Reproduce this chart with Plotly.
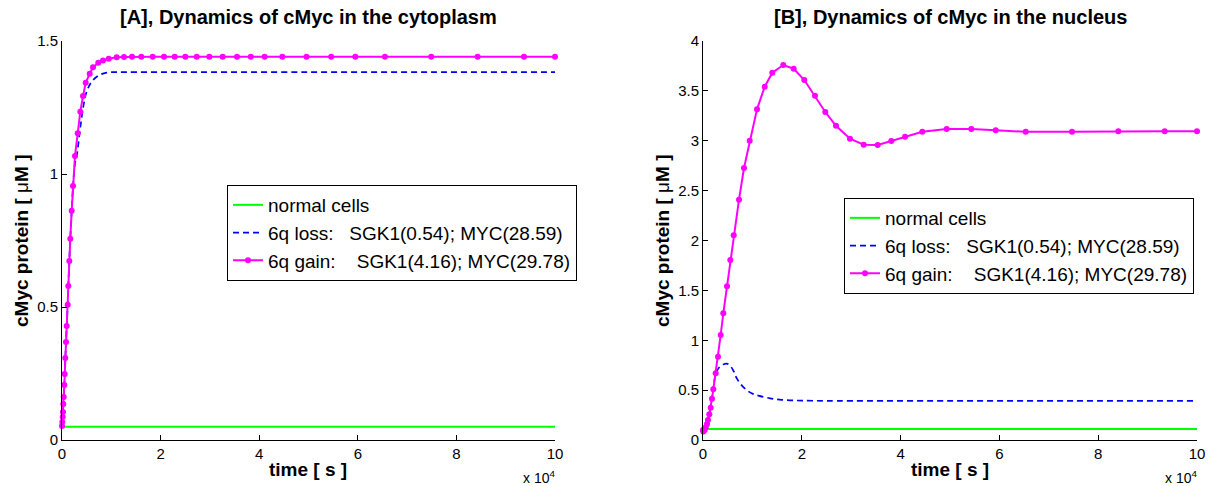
import plotly.graph_objects as go

# ---------------- data ----------------
# [A] cytoplasm
t_norm_A = [0, 100000]
v_norm_A = [0.05, 0.05]

t_loss_A = [0, 61, 142, 203, 264, 345, 467, 548, 669, 811, 953, 1156, 1278, 1481, 1684,
            1967, 2231, 2637, 2982, 3651, 4320, 5010, 6024, 7363, 9067, 11000, 15000,
            25000, 50000, 75000, 100000]
v_loss_A = [0.05, 0.068, 0.086, 0.105, 0.135, 0.162, 0.207, 0.248, 0.308, 0.368, 0.429, 0.508,
            0.579, 0.673, 0.757, 0.862, 0.950, 1.040, 1.067, 1.165, 1.253, 1.310, 1.347, 1.370,
            1.381, 1.383, 1.383, 1.383, 1.383, 1.383, 1.383]

t_gain_A = [0, 61, 142, 203, 264, 345, 467, 548, 669, 811, 953, 1156, 1278, 1481, 1684,
            1967, 2231, 2637, 3185, 3712, 4260, 4807, 5619, 6288, 7363, 8316, 9473, 11095,
            12576, 14199, 16085, 18398, 20690, 22860, 25010, 27323, 29878, 32596, 35500,
            38300, 41100, 44700, 49600, 54600, 59500, 65500, 74900, 84300, 93700, 100000]
v_gain_A = [0.053, 0.068, 0.086, 0.105, 0.135, 0.162, 0.207, 0.248, 0.308, 0.368, 0.429, 0.508,
            0.579, 0.673, 0.757, 0.862, 0.955, 1.068, 1.153, 1.234, 1.293, 1.343, 1.377, 1.401,
            1.418, 1.427, 1.433, 1.439, 1.440, 1.441, 1.441, 1.441, 1.441, 1.441, 1.441, 1.441,
            1.441, 1.441, 1.441, 1.441, 1.441, 1.441, 1.441, 1.441, 1.441, 1.441, 1.441, 1.441,
            1.441, 1.441]

# [B] nucleus
t_norm_B = [0, 100000]
v_norm_B = [0.11, 0.11]

t_loss_B = [0, 500, 1000, 1500, 2000, 2400, 2800, 3400, 4200, 4800, 5500, 6200, 6820, 7800,
            8850, 10000, 11200, 13560, 15500, 17600, 20000, 25000, 50000, 75000, 100000]
v_loss_B = [0.10, 0.13, 0.20, 0.32, 0.50, 0.62, 0.69, 0.735, 0.76, 0.765, 0.745, 0.69, 0.62,
            0.55, 0.50, 0.465, 0.445, 0.418, 0.405, 0.398, 0.395, 0.393, 0.393, 0.393, 0.393]

t_gain_B = [0, 61, 344, 547, 810, 1012, 1275, 1559, 1822, 2085, 2571, 3036, 3583, 4109, 4858,
            5526, 6215, 7287, 8300, 9453, 10931, 12490, 14028, 16255, 18360, 20506, 22672,
            24757, 26923, 29757, 32530, 35364, 38117, 40891, 44393, 49332, 54312, 59251,
            65324, 74696, 84069, 93462, 100000]
v_gain_B = [0.10, 0.085, 0.10, 0.127, 0.16, 0.20, 0.258, 0.324, 0.414, 0.508, 0.669, 0.835,
            1.053, 1.27, 1.541, 1.805, 2.052, 2.409, 2.727, 3.0, 3.315, 3.542, 3.682, 3.759,
            3.722, 3.609, 3.452, 3.288, 3.15, 3.02, 2.96, 2.957, 2.997, 3.04, 3.09, 3.118,
            3.118, 3.105, 3.09, 3.09, 3.095, 3.095, 3.095]

x_tickvals = [0, 20000, 40000, 60000, 80000, 100000]
x_ticktext = ["0", "2", "4", "6", "8", "10"]
yA_tickvals = [0, 0.5, 1, 1.5]
yA_ticktext = ["0", "0.5", "1", "1.5"]
yB_tickvals = [0, 0.5, 1, 1.5, 2, 2.5, 3, 3.5, 4]
yB_ticktext = ["0", "0.5", "1", "1.5", "2", "2.5", "3", "3.5", "4"]

names = ["normal cells",
         "6q loss:\u00a0\u00a0\u00a0SGK1(0.54); MYC(28.59)",
         "6q gain:\u00a0\u00a0\u00a0\u00a0SGK1(4.16); MYC(29.78)"]

GREEN = "#00ff00"
BLUE = "#0000ff"
MAG = "#ff00ff"
FONT = "Liberation Sans, Arial, sans-serif"

fig = go.Figure()

for (tn, vn, tl, vl, tg, vg, xa, ya, lg) in [
    (t_norm_A, v_norm_A, t_loss_A, v_loss_A, t_gain_A, v_gain_A, "x", "y", "legend"),
    (t_norm_B, v_norm_B, t_loss_B, v_loss_B, t_gain_B, v_gain_B, "x2", "y2", "legend2"),
]:
    fig.add_trace(go.Scatter(x=tn, y=vn, mode="lines", name=names[0],
                             line=dict(color=GREEN, width=2), xaxis=xa, yaxis=ya,
                             legend=lg, cliponaxis=False))
    fig.add_trace(go.Scatter(x=tl, y=vl, mode="lines", name=names[1],
                             line=dict(color=BLUE, width=1.7, dash="6px,4px"),
                             line_shape="spline",
                             xaxis=xa, yaxis=ya, legend=lg, cliponaxis=False))
    fig.add_trace(go.Scatter(x=tg, y=vg, mode="lines+markers", name=names[2],
                             line=dict(color=MAG, width=2), marker=dict(color=MAG, size=6),
                             xaxis=xa, yaxis=ya, legend=lg, cliponaxis=False))

W, H = 1219, 486
def px_x(p):
    return p / W
def px_y(p):
    return 1 - p / H

ydom = [px_y(440), px_y(41)]
axis_common = dict(showline=True, linecolor="black", linewidth=1, ticks="inside", ticklen=5,
                   tickcolor="black", showgrid=False, zeroline=False, mirror=False,
                   automargin=False,
                   tickfont=dict(family=FONT, size=15, color="black"))

leg_common = dict(xanchor="left", yanchor="top", bgcolor="white", bordercolor="black",
                  borderwidth=1, font=dict(family=FONT, size=19, color="black"),
                  tracegroupgap=0, itemwidth=30)

fig.update_layout(
    width=W, height=H,
    margin=dict(l=0, r=0, t=0, b=0, autoexpand=False),
    paper_bgcolor="white", plot_bgcolor="white",
    font=dict(family=FONT, color="black"),
    xaxis=dict(domain=[px_x(62), px_x(555)], range=[0, 100000], tickvals=x_tickvals,
               ticktext=x_ticktext, anchor="y", **axis_common),
    yaxis=dict(domain=ydom, range=[0, 1.5], tickvals=yA_tickvals, ticktext=yA_ticktext,
               anchor="x", **axis_common),
    xaxis2=dict(domain=[px_x(703), px_x(1197)], range=[0, 100000], tickvals=x_tickvals,
                ticktext=x_ticktext, anchor="y2", **axis_common),
    yaxis2=dict(domain=ydom, range=[0, 4], tickvals=yB_tickvals, ticktext=yB_ticktext,
                anchor="x2", **axis_common),
    legend=dict(x=px_x(227), y=px_y(185), **leg_common),
    legend2=dict(x=px_x(844), y=px_y(198), **leg_common),
    showlegend=True,
)

def ann(text, x, y, size, xanchor="center", angle=0):
    fig.add_annotation(text=text, x=px_x(x), y=px_y(y), xref="paper", yref="paper",
                       showarrow=False, xanchor=xanchor, yanchor="middle", textangle=angle,
                       font=dict(family=FONT, size=size, color="black"))

ylabel = "<b>cMyc protein [ </b>\u03bc<b>M ]</b>"
ann("<b>[A], Dynamics of cMyc in the cytoplasm</b>", 308, 17, 20)
ann("<b>[B], Dynamics of cMyc in the nucleus</b>", 950, 17, 20)
ann("<b>time [ s ]</b>", 308, 469, 19)
ann("<b>time [ s ]</b>", 950, 469, 19)
ann(ylabel, 21, 241, 19, angle=-90)
ann(ylabel, 662, 241, 19, angle=-90)
ann("x 10<sup>4</sup>", 557, 477, 14, xanchor="right")
ann("x 10<sup>4</sup>", 1199, 477, 14, xanchor="right")

fig.write_html("out.html", config={"displayModeBar": False},
               post_script="document.body.style.margin='0';document.body.style.padding='0';")
